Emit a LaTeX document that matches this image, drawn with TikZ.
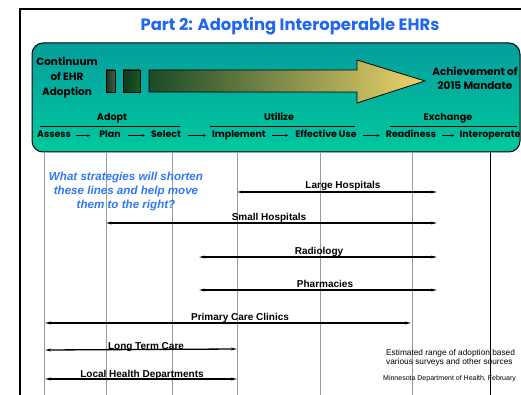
\documentclass[tikz,border=0pt]{standalone}
\usepackage{fontspec}
\setmainfont{Liberation Sans}
\newfontfamily\pop{Poppins}
\usetikzlibrary{arrows.meta}
\definecolor{tealtop}{HTML}{049E9C}
\definecolor{tealbot}{HTML}{00C89E}
\definecolor{titleblue}{HTML}{1F66F0}
\definecolor{qblue}{HTML}{2F78F5}
\definecolor{darkgr}{HTML}{1B4A28}
\definecolor{midgr}{HTML}{8A9A50}
\definecolor{yel}{HTML}{EDD46C}
\definecolor{gridgray}{HTML}{9A9A9A}
\tikzset{
  barline/.style={line width=1.3pt,{Stealth[length=6pt,width=2.8pt]}-{Stealth[length=6pt,width=2.8pt]}},
  barlabel/.style={font=\bfseries\fontsize{10}{12}\selectfont,anchor=base,inner sep=0pt},
  steplbl/.style={font=\pop\bfseries\fontsize{9.4}{11}\selectfont,anchor=base,inner sep=0pt},
  phaselbl/.style={font=\pop\bfseries\fontsize{9.6}{11}\selectfont,anchor=base,inner sep=0pt},
  steparrow/.style={line width=0.6pt,-{Stealth[length=3pt,width=2.6pt]}},
  gridline/.style={gridgray,line width=0.9pt},
  hdr/.style={font=\pop\bfseries\fontsize{10.5}{15}\selectfont,align=center,inner sep=0pt}
}
\begin{document}
\begin{tikzpicture}[x=1pt,y=-1pt]
\useasboundingbox (0,0) rectangle (521,395);
\begin{scope}
\clip (0,0) rectangle (521,395);
% frame
\draw[line width=2pt] (20,396) -- (20,9) -- (530,9);
% title
\node[text=titleblue,font=\pop\bfseries\fontsize{16.4}{18}\selectfont,inner sep=0pt] (title) at (290,26) {Part 2: Adopting Interoperable EHRs};
% teal box
\shade[top color=tealtop,bottom color=tealbot,draw=black,line width=1pt,rounded corners=11pt] (32,43) rectangle (520,152);
% header texts
\node[hdr] (cont) at (67,78) {Continuum\\of EHR\\Adoption};
\node[hdr,font=\pop\bfseries\fontsize{10.5}{14}\selectfont] (ach) at (475,78) {Achievement of\\2015 Mandate};
% small bars
\shade[left color=darkgr!70!black,right color=darkgr!85,draw=black,line width=0.8pt] (106,70) rectangle (115,92);
\shade[left color=darkgr!70!black,right color=darkgr!90!green,draw=black,line width=0.8pt] (123,70) rectangle (140,92);
% big arrow
\shade[left color=darkgr,middle color=midgr,right color=yel,draw=black,line width=0.8pt]
  (149,70) -- (357,70) -- (357,60) -- (425,81) -- (357,103) -- (357,92) -- (149,92) -- cycle;
% phase labels
\node[phaselbl] (adopt) at (112,121) {Adopt};
\node[phaselbl] (util) at (279,121) {Utilize};
\node[phaselbl] (exch) at (448,121) {Exchange};
\draw[line width=0.7pt] (40,126) -- (180,126);
\draw[line width=0.7pt] (210,126) -- (355,126);
\draw[line width=0.7pt] (390,126) -- (517,126);
% steps
\node[steplbl] (s1) at (54,138) {Assess};
\node[steplbl] (s2) at (110,138) {Plan};
\node[steplbl] (s3) at (166,138) {Select};
\node[steplbl] (s4) at (239,138) {Implement};
\node[steplbl] (s5) at (326,138) {Effective Use};
\node[steplbl] (s6) at (411,138) {Readiness};
\node[steplbl] (s7) at (490,138) {Interoperate};
\draw[steparrow] ([xshift=5pt,yshift=2.5pt]s1.base east) -- ([xshift=-9pt,yshift=2.5pt]s2.base west);
\draw[steparrow] ([xshift=7pt,yshift=2.5pt]s2.base east) -- ([xshift=-6pt,yshift=2.5pt]s3.base west);
\draw[steparrow] ([xshift=7pt,yshift=2.5pt]s3.base east) -- ([xshift=-6pt,yshift=2.5pt]s4.base west);
\draw[steparrow] ([xshift=6pt,yshift=2.5pt]s4.base east) -- ([xshift=-7pt,yshift=2.5pt]s5.base west);
\draw[steparrow] ([xshift=6pt,yshift=2.5pt]s5.base east) -- ([xshift=-6pt,yshift=2.5pt]s6.base west);
\draw[steparrow] ([xshift=6pt,yshift=2.5pt]s6.base east) -- ([xshift=-5pt,yshift=2.5pt]s7.base west);
% grid lines
\foreach \gx in {44,106,172,237,320,412}{\draw[gridline] (\gx,152.5) -- (\gx,396);}
\draw[black,line width=1pt] (490,152.5) -- (490,396);
% question
\node[text=qblue,font=\bfseries\itshape\fontsize{11.6}{14}\selectfont,align=center,inner sep=0pt] (q) at (126,191.5) {What strategies will shorten\\these lines and help move\\them to the right?};
% bars
\coordinate (lhA) at (237,192); \coordinate (lhB) at (437,192);
\draw[barline] (lhA) -- (lhB);
\node[barlabel] (lhT) at (343,189) {Large Hospitals};
\coordinate (shA) at (106,223); \coordinate (shB) at (437,223);
\draw[barline] (shA) -- (shB);
\node[barlabel] (shT) at (269,220.5) {Small Hospitals};
\coordinate (raA) at (199,257); \coordinate (raB) at (437,257);
\draw[barline] (raA) -- (raB);
\node[barlabel] (raT) at (319,254) {Radiology};
\coordinate (phA) at (199,290); \coordinate (phB) at (437,290);
\draw[barline] (phA) -- (phB);
\node[barlabel] (phT) at (325,287.5) {Pharmacies};
\coordinate (pcA) at (45,323); \coordinate (pcB) at (411,323);
\draw[barline] (pcA) -- (pcB);
\node[barlabel] (pcT) at (240,320) {Primary Care Clinics};
\coordinate (ltA) at (45,350); \coordinate (ltB) at (237,349);
\draw[barline] (ltA) -- (ltB);
\node[barlabel] (ltT) at (146,349) {Long Term Care};
\coordinate (ldA) at (45,379); \coordinate (ldB) at (237,379);
\draw[barline] (ldA) -- (ldB);
\node[barlabel] (ldT) at (142,377) {Local Health Departments};
% notes
\node[font=\fontsize{8.3}{9}\selectfont,align=left,anchor=base west,inner sep=0pt] (note) at (386,364.5) {Estimated range of adoption based\\various surveys and other sources};
\node[font=\fontsize{7}{8}\selectfont,anchor=base west,inner sep=0pt] (src) at (383,380.5) {Minnesota Department of Health, February};
\end{scope}
\end{tikzpicture}
\end{document}
